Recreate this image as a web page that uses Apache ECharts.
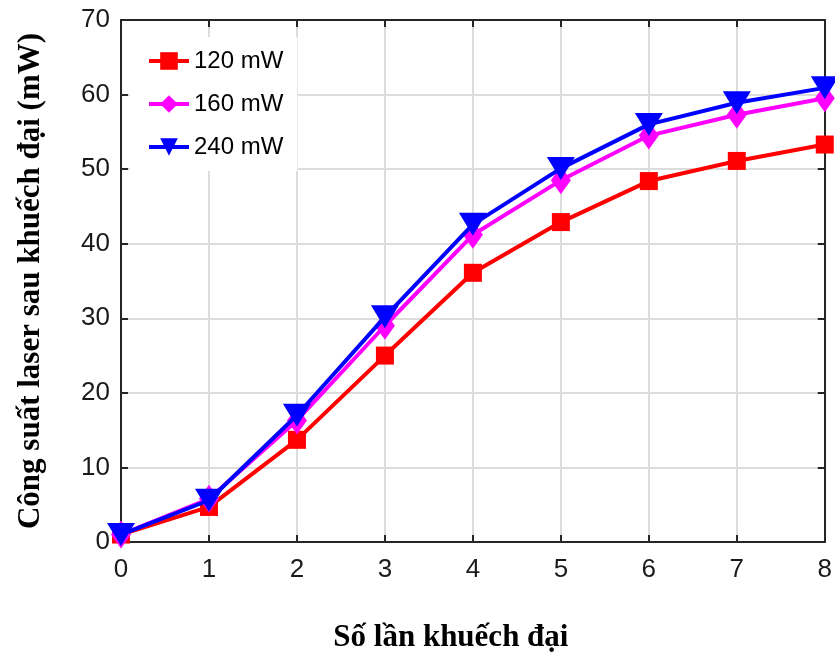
<!DOCTYPE html>
<html><head><meta charset="utf-8">
<script src="https://cdn.jsdelivr.net/npm/echarts@6/dist/echarts.min.js"></script>
<style>html,body{margin:0;padding:0;background:#fff}#c{width:835px;height:658px}</style>
</head><body><div id="c"></div>
<script>
const categories = ['0','1','2','3','4','5','6','7','8'];
const seriesNames = ['120 mW','160 mW','240 mW'];
const p120 = [1.0, 4.7, 13.7, 25.0, 36.1, 42.9, 48.4, 51.1, 53.3];
const p160 = [1.0, 5.8, 16.3, 29.0, 41.2, 48.5, 54.5, 57.3, 59.5];
const p240 = [1.0, 5.6, 17.0, 30.2, 42.6, 50.1, 56.0, 58.9, 60.9];
const yTicks = [0,10,20,30,40,50,60,70];

const chart = echarts.init(document.getElementById('c'));
const axisCol = '#262626';
const lab = {color:'#1a1a1a', fontFamily:'Liberation Sans, Arial', fontSize:26};
const tick = {show:true, inside:true, length:7, lineStyle:{color:axisCol, width:2}};
const line = {show:true, onZero:false, lineStyle:{color:axisCol, width:2}};
const titleStyle = {fontFamily:'Liberation Serif, Times New Roman', fontWeight:'bold', fontSize:31, color:'#000'};
chart.setOption({
  animation:false,
  grid:{left:121, right:5, top:20, bottom:114},
  legend:{
    data:seriesNames, orient:'vertical', left:130, top:37, itemGap:19, itemWidth:40, itemHeight:22,
    backgroundColor:'#fff', padding:[12,14,12,17],
    lineStyle:{width:4},
    textStyle:{fontFamily:'Liberation Sans, Arial', fontSize:24, color:'#000'}
  },
  xAxis:[{
    type:'value', min:0, max:8, interval:1, position:'bottom',
    axisLine:line, axisTick:tick,
    axisLabel:Object.assign({margin:15, formatter:v=>categories[v]}, lab),
    splitLine:{show:true, lineStyle:{color:'#dcdcdc', width:2}},
    name:'Số lần khuếch đại', nameLocation:'middle', nameGap:80,
    nameTextStyle:Object.assign({padding:[0,44,0,0]}, titleStyle)
  },{
    type:'value', min:0, max:8, interval:1, position:'top',
    axisLine:line, axisTick:tick, axisLabel:{show:false}, splitLine:{show:false}
  }],
  yAxis:[{
    type:'value', min:0, max:70, interval:10, position:'left',
    axisLine:line, axisTick:tick,
    axisLabel:Object.assign({margin:11, formatter:v=>yTicks.includes(v)?String(v):''}, lab),
    splitLine:{show:true, lineStyle:{color:'#dcdcdc', width:2}},
    name:'Công suất laser sau khuếch đại (mW)', nameLocation:'middle', nameGap:75, nameTextStyle:titleStyle
  },{
    type:'value', min:0, max:70, interval:10, position:'right',
    axisLine:line, axisTick:tick, axisLabel:{show:false}, splitLine:{show:false}
  }],
  series:[
    {name:seriesNames[0], type:'line', data:p120.map((v,i)=>[i,v]), color:'#ff0000',
     symbol:'rect', symbolSize:18, lineStyle:{width:4}, clip:false, z:3},
    {name:seriesNames[1], type:'line', data:p160.map((v,i)=>[i,v]), color:'#ff00ff',
     symbol:'diamond', symbolSize:[20,28], lineStyle:{width:4}, clip:false, z:4},
    {name:seriesNames[2], type:'line', data:p240.map((v,i)=>[i,v]), color:'#0000ff',
     symbol:'triangle', symbolRotate:180, symbolSize:[28,23], lineStyle:{width:4}, clip:false, z:5}
  ]
});
</script></body></html>
